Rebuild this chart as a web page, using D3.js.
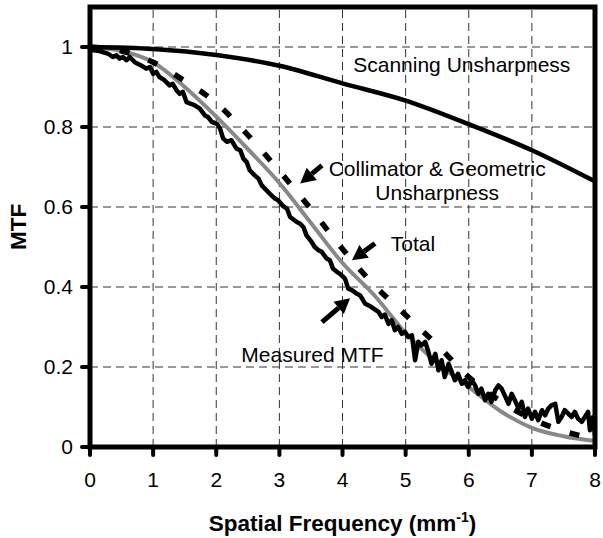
<!DOCTYPE html>
<html><head><meta charset="utf-8">
<script src="https://cdn.jsdelivr.net/npm/d3@7/dist/d3.min.js"></script>
<style>
html,body{margin:0;padding:0;background:#fff;}
text{font-family:"Liberation Sans",Arial,sans-serif;}
</style></head>
<body><svg id="chart" width="603" height="538"></svg>
<script>
const xTicks = [0,1,2,3,4,5,6,7,8];
const yTicks = [0,0.2,0.4,0.6,0.8,1];
const yTickLabels = ["0","0.2","0.4","0.6","0.8","1"];

const scanning = [[0,1],[1,0.995],[2,0.98],[3,0.953],[4,0.909],[5,0.866],[6,0.807],[7,0.742],[8,0.664]];
const collimator = [[0,1],[0.5,0.99],[1,0.962],[1.5,0.9],[2,0.826],[2.5,0.745],[3,0.66],[3.5,0.56],[4,0.46],[4.5,0.38],[5,0.285],[5.5,0.21],[6,0.15],[6.5,0.09],[7,0.048],[7.5,0.027],[8,0.015]];
const total = [[0,1],[0.5,0.99],[1,0.962],[1.5,0.915],[2,0.86],[2.5,0.78],[3,0.69],[3.5,0.595],[4,0.495],[4.5,0.405],[5,0.33],[5.5,0.255],[6,0.175],[6.5,0.115],[7,0.07],[7.5,0.04],[8,0.02]];
const measured = [[0,1.0],[0.05,0.992],[0.15,0.99],[0.29,0.983],[0.36,0.975],[0.42,0.979],[0.47,0.971],[0.52,0.975],[0.58,0.967],[0.63,0.975],[0.71,0.962],[0.81,0.954],[0.89,0.946],[0.95,0.95],[1.0,0.933],[1.05,0.938],[1.1,0.925],[1.18,0.917],[1.26,0.904],[1.31,0.908],[1.37,0.892],[1.42,0.883],[1.47,0.888],[1.53,0.862],[1.6,0.858],[1.66,0.854],[1.74,0.846],[1.82,0.829],[1.87,0.825],[1.93,0.813],[2.01,0.808],[2.06,0.796],[2.11,0.771],[2.17,0.763],[2.24,0.767],[2.32,0.746],[2.38,0.742],[2.43,0.721],[2.48,0.713],[2.53,0.692],[2.61,0.679],[2.67,0.671],[2.72,0.654],[2.77,0.646],[2.85,0.633],[2.93,0.621],[2.98,0.617],[3.06,0.602],[3.12,0.596],[3.17,0.575],[3.27,0.563],[3.33,0.558],[3.38,0.55],[3.43,0.529],[3.51,0.513],[3.56,0.5],[3.62,0.492],[3.67,0.488],[3.75,0.471],[3.8,0.467],[3.85,0.446],[3.91,0.438],[3.96,0.433],[4.04,0.421],[4.09,0.396],[4.15,0.392],[4.23,0.383],[4.28,0.379],[4.36,0.358],[4.44,0.352],[4.51,0.344],[4.57,0.338],[4.62,0.325],[4.67,0.331],[4.73,0.308],[4.78,0.317],[4.83,0.292],[4.88,0.3],[4.94,0.283],[4.99,0.288],[5.04,0.275],[5.1,0.279],[5.15,0.217],[5.2,0.263],[5.25,0.254],[5.31,0.263],[5.36,0.238],[5.41,0.208],[5.47,0.233],[5.52,0.192],[5.57,0.217],[5.62,0.175],[5.68,0.208],[5.73,0.188],[5.78,0.167],[5.83,0.183],[5.89,0.158],[5.94,0.167],[5.99,0.15],[6.05,0.167],[6.1,0.154],[6.15,0.133],[6.2,0.146],[6.26,0.117],[6.31,0.133],[6.36,0.113],[6.42,0.142],[6.47,0.154],[6.52,0.146],[6.57,0.129],[6.63,0.108],[6.68,0.133],[6.73,0.117],[6.79,0.096],[6.84,0.113],[6.89,0.075],[6.94,0.096],[7.0,0.071],[7.05,0.088],[7.1,0.067],[7.16,0.092],[7.21,0.079],[7.26,0.096],[7.31,0.104],[7.37,0.108],[7.42,0.063],[7.47,0.075],[7.52,0.092],[7.58,0.083],[7.63,0.075],[7.68,0.088],[7.73,0.071],[7.79,0.063],[7.84,0.075],[7.89,0.088],[7.92,0.042],[7.97,0.075],[8.0,0.03]];

// annotation labels (data coords) and arrows [tail, tip]
const labels = [
  {lines:["Scanning Unsharpness"], at:[5.89,0.955]},
  {lines:["Collimator & Geometric","Unsharpness"], at:[5.5,0.695]},
  {lines:["Total"], at:[5.115,0.508]},
  {lines:["Measured MTF"], at:[3.525,0.23]}
];
const arrows = [
  [[3.675,0.704],[3.33,0.659]],
  [[4.515,0.509],[4.15,0.467]],
  [[3.675,0.312],[4.12,0.372]]
];

const W=603,H=538, m={l:90,r:8,t:7,b:91};
const svg=d3.select("#chart");
const x=d3.scaleLinear().domain([0,8]).range([m.l,W-m.r]);
const y=d3.scaleLinear().domain([0,1.1]).range([H-m.b,m.t]);

// grid
svg.append("g").selectAll("line").data(xTicks.slice(1,-1)).join("line")
  .attr("x1",d=>x(d)).attr("x2",d=>x(d)).attr("y1",y(0)).attr("y2",y(1.1))
  .attr("stroke","#333").attr("stroke-width",1).attr("stroke-dasharray","8,5");
svg.append("g").selectAll("line").data(yTicks.slice(1)).join("line")
  .attr("y1",d=>y(d)).attr("y2",d=>y(d)).attr("x1",x(0)).attr("x2",x(8))
  .attr("stroke","#333").attr("stroke-width",1).attr("stroke-dasharray","8,5");

const line=d3.line().x(d=>x(d[0])).y(d=>y(d[1]));
const smooth=d3.line().x(d=>x(d[0])).y(d=>y(d[1])).curve(d3.curveMonotoneX);

svg.append("path").datum(collimator).attr("d",smooth).attr("fill","none")
  .attr("stroke","#888").attr("stroke-width",4);
svg.append("path").datum(total).attr("d",smooth).attr("fill","none")
  .attr("stroke","#000").attr("stroke-width",5.5).attr("stroke-dasharray","10,20");
svg.append("path").datum(measured).attr("d",line).attr("fill","none")
  .attr("stroke","#000").attr("stroke-width",4.5).attr("stroke-linejoin","round");
svg.append("path").datum(scanning).attr("d",smooth).attr("fill","none")
  .attr("stroke","#000").attr("stroke-width",4.5);

// frame
svg.append("rect").attr("x",x(0)).attr("y",y(1.1)).attr("width",x(8)-x(0)).attr("height",y(0)-y(1.1))
  .attr("fill","none").attr("stroke","#000").attr("stroke-width",5);

// ticks
svg.append("g").selectAll("line").data(yTicks).join("line")
  .attr("x1",x(0)-8).attr("x2",x(0)).attr("y1",d=>y(d)).attr("y2",d=>y(d))
  .attr("stroke","#000").attr("stroke-width",4).attr("stroke-linecap","round");
svg.append("g").selectAll("line").data(xTicks).join("line")
  .attr("y1",y(0)).attr("y2",y(0)+8).attr("x1",d=>x(d)).attr("x2",d=>x(d))
  .attr("stroke","#000").attr("stroke-width",4).attr("stroke-linecap","round");

// tick labels
svg.append("g").selectAll("text").data(yTicks).join("text")
  .attr("x",x(0)-17).attr("y",d=>y(d)).attr("dy","0.35em").attr("text-anchor","end")
  .attr("font-size",21).text((d,i)=>yTickLabels[i]);
svg.append("g").selectAll("text").data(xTicks).join("text")
  .attr("x",d=>x(d)).attr("y",y(0)+40).attr("text-anchor","middle")
  .attr("font-size",21).text(d=>d);

// axis titles
svg.append("text").attr("transform",`translate(26,${(y(0)+y(1.1))/2}) rotate(-90)`)
  .attr("text-anchor","middle").attr("font-size",22.5).attr("font-weight","bold").text("MTF");
const xt=svg.append("text").attr("x",(x(0)+x(8))/2).attr("y",531).attr("text-anchor","middle")
  .attr("font-size",22.5).attr("font-weight","bold");
xt.append("tspan").text("Spatial Frequency (mm");
xt.append("tspan").attr("font-size",14).attr("dy",-9).text("-1");
xt.append("tspan").attr("dy",9).text(")");

// annotations
labels.forEach(l=>{
  const t=svg.append("text").attr("text-anchor","middle").attr("font-size",21);
  l.lines.forEach((s,i)=>t.append("tspan").attr("x",x(l.at[0])).attr("y",y(l.at[1])+7+i*24).text(s));
});
arrows.forEach(a=>{
  const [x1,y1]=[x(a[0][0]),y(a[0][1])],[x2,y2]=[x(a[1][0]),y(a[1][1])];
  const ang=Math.atan2(y2-y1,x2-x1), hl=15, hw=8;
  const bx=x2-hl*Math.cos(ang), by=y2-hl*Math.sin(ang);
  svg.append("line").attr("x1",x1).attr("y1",y1).attr("x2",bx).attr("y2",by)
    .attr("stroke","#000").attr("stroke-width",5);
  const px=-Math.sin(ang)*hw, py=Math.cos(ang)*hw;
  svg.append("path").attr("d",`M${x2},${y2}L${bx+px},${by+py}L${bx-px},${by-py}Z`).attr("fill","#000");
});
</script></body></html>
